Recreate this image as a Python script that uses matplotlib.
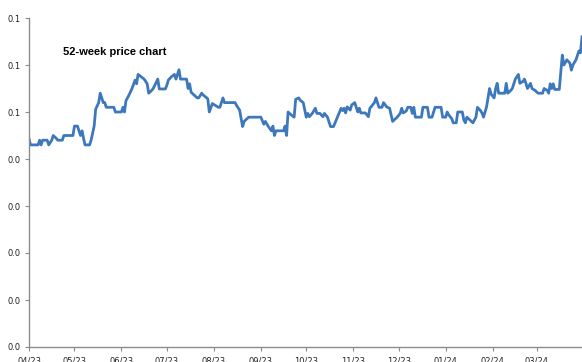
import matplotlib
matplotlib.use('Agg')
import matplotlib.pyplot as plt
import matplotlib.dates as mdates
from matplotlib.ticker import FormatStrFormatter
import pandas as pd

# days since 2023-04-01
day_offset = [0, 1, 6, 7, 8, 9, 12, 13, 15, 16, 18, 19, 22, 23, 29, 30, 32, 33, 34, 35,
              36, 37, 40, 41, 43, 44, 46, 47, 49, 50, 51, 56, 57, 61, 62, 63, 64, 66, 68, 70,
              71, 72, 74, 76, 78, 79, 81, 82, 85, 86, 90, 91, 92, 94, 96, 97, 99, 100, 104, 105,
              106, 107, 109, 111, 112, 114, 115, 117, 118, 119, 121, 123, 125, 126, 128, 129, 136, 137, 139, 141,
              142, 145, 153, 155, 156, 158, 160, 161, 162, 163, 168, 169, 170, 171, 173, 175, 176, 178, 179, 181,
              183, 184, 185, 187, 189, 190, 192, 194, 195, 197, 199, 201, 206, 207, 208, 209, 210, 212, 213, 215,
              217, 218, 219, 222, 224, 225, 228, 229, 231, 233, 234, 236, 238, 240, 243, 245, 246, 247, 249, 250,
              252, 253, 254, 255, 259, 260, 263, 264, 266, 268, 272, 273, 275, 276, 277, 279, 280, 282, 283, 286,
              287, 288, 289, 291, 293, 295, 296, 298, 299, 300, 302, 304, 305, 307, 308, 309, 310, 314, 315, 316,
              318, 319, 321, 323, 324, 326, 327, 328, 329, 331, 332, 334, 336, 339, 340, 342, 343, 344, 345, 346,
              347, 350, 352, 353, 355, 357, 358, 359, 361, 363, 364, 365]

price = [0.0443, 0.0430, 0.0430, 0.0440, 0.0430, 0.0440, 0.0440, 0.0430, 0.0440, 0.0450,
         0.0444, 0.0440, 0.0440, 0.0450, 0.0450, 0.0470, 0.0470, 0.0460, 0.0450, 0.0460,
         0.0444, 0.0430, 0.0430, 0.0440, 0.0470, 0.0506, 0.0520, 0.0540, 0.0520, 0.0520,
         0.0510, 0.0510, 0.0500, 0.0500, 0.0510, 0.0500, 0.0524, 0.0536, 0.0550, 0.0568,
         0.0560, 0.0580, 0.0575, 0.0570, 0.0560, 0.0540, 0.0546, 0.0550, 0.0570, 0.0549,
         0.0549, 0.0557, 0.0568, 0.0575, 0.0580, 0.0570, 0.0590, 0.0570, 0.0570, 0.0550,
         0.0560, 0.0542, 0.0536, 0.0530, 0.0530, 0.0540, 0.0536, 0.0531, 0.0528, 0.0500,
         0.0518, 0.0514, 0.0510, 0.0510, 0.0530, 0.0520, 0.0520, 0.0514, 0.0504, 0.0469,
         0.0480, 0.0489, 0.0489, 0.0474, 0.0480, 0.0469, 0.0460, 0.0470, 0.0450, 0.0460,
         0.0460, 0.0470, 0.0450, 0.0500, 0.0494, 0.0489, 0.0527, 0.0530, 0.0525, 0.0520,
         0.0489, 0.0497, 0.0490, 0.0497, 0.0508, 0.0497, 0.0497, 0.0490, 0.0497, 0.0489,
         0.0469, 0.0469, 0.0508, 0.0503, 0.0508, 0.0498, 0.0511, 0.0504, 0.0515, 0.0520,
         0.0500, 0.0508, 0.0498, 0.0498, 0.0490, 0.0508, 0.0520, 0.0530, 0.0510, 0.0510,
         0.0520, 0.0511, 0.0508, 0.0480, 0.0489, 0.0497, 0.0508, 0.0498, 0.0502, 0.0510,
         0.0510, 0.0497, 0.0510, 0.0489, 0.0489, 0.0510, 0.0510, 0.0489, 0.0489, 0.0510,
         0.0510, 0.0489, 0.0489, 0.0500, 0.0494, 0.0486, 0.0477, 0.0477, 0.0500, 0.0500,
         0.0483, 0.0477, 0.0489, 0.0483, 0.0477, 0.0489, 0.0510, 0.0503, 0.0498, 0.0489,
         0.0511, 0.0550, 0.0538, 0.0530, 0.0550, 0.0561, 0.0540, 0.0540, 0.0561, 0.0540,
         0.0546, 0.0550, 0.0570, 0.0580, 0.0561, 0.0565, 0.0570, 0.0561, 0.0550, 0.0561,
         0.0550, 0.0546, 0.0540, 0.0540, 0.0550, 0.0546, 0.0540, 0.0560, 0.0550, 0.0560,
         0.0548, 0.0548, 0.0621, 0.0600, 0.0611, 0.0604, 0.0589, 0.0600, 0.0611, 0.0630,
         0.0626, 0.0660]

start = pd.Timestamp('2023-04-01')
end = pd.Timestamp('2024-03-31')
dates = start + pd.to_timedelta(day_offset, unit='D')
month_ticks = pd.date_range('2023-04-01', '2024-03-01', freq='MS')

fig = plt.figure(figsize=(5.82, 3.62), dpi=100)
ax = fig.add_axes([29 / 582, 1 - 347 / 362, 1 - 29 / 582, (347 - 18) / 362])

ax.plot(dates, price, color='#3d78bd', linewidth=2.0, solid_joinstyle='round')

ax.set_xlim(start, end)
ax.set_ylim(0, 0.07)
ax.set_yticks([i / 100 for i in range(8)])
ax.yaxis.set_major_formatter(FormatStrFormatter('%.1f'))
ax.set_xticks(month_ticks)
ax.xaxis.set_major_formatter(mdates.DateFormatter('%m/%y'))

for side in ['top', 'right']:
    ax.spines[side].set_visible(False)
for side in ['left', 'bottom']:
    ax.spines[side].set_color('#8c8c8c')
    ax.spines[side].set_linewidth(1.0)

ax.tick_params(axis='both', length=3, width=0.8, color='#8c8c8c',
               labelsize=6, labelcolor='#222222', pad=3)
ax.tick_params(axis='x', pad=4)

fig.text(63 / 582, 1 - 52 / 362, '52-week price chart', fontsize=8,
         fontweight='bold', family='Liberation Sans', va='center', ha='left')

fig.savefig('out.png', dpi=100)
